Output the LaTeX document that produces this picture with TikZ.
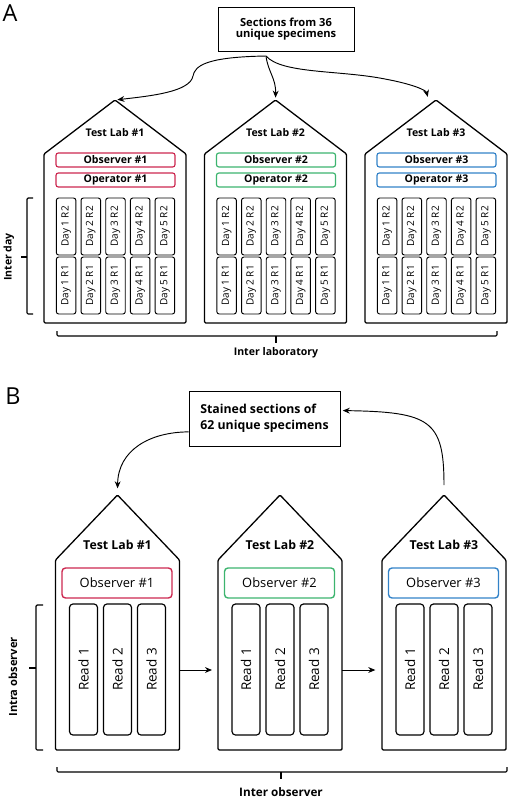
\documentclass[tikz,border=0pt]{standalone}
\usepackage{fontspec}
\setmainfont{Open Sans}
\usetikzlibrary{arrows.meta}
\definecolor{obsred}{RGB}{204,40,80}
\definecolor{obsgreen}{RGB}{60,180,110}
\definecolor{obsblue}{RGB}{50,130,200}
\newcommand{\fs}[1]{\fontsize{#1}{#1}\selectfont}

\begin{document}
\begin{tikzpicture}[
        x=0.03cm, y=-0.03cm,
        house/.style={draw, line width=1.1pt, rounded corners=1pt},
        specbox/.style={draw, line width=0.7pt, inner sep=0pt, font=\bfseries\fs{9.5}},
        obsA/.style={draw, line width=1pt, rounded corners=2pt, minimum width=3.57cm, minimum height=0.42cm, inner sep=0pt, font=\bfseries\fs{9}},
        obsB/.style={draw, line width=1.2pt, rounded corners=3pt, minimum width=3.3cm, minimum height=0.9cm, inner sep=0pt, font=\fs{11}},
        day/.style={draw, line width=0.8pt, rounded corners=2pt, rotate=90, minimum width=1.71cm, minimum height=0.585cm, inner sep=0pt, font=\fs{8.5}},
        readbox/.style={draw, line width=1pt, rounded corners=3pt, rotate=90, minimum width=3.93cm, minimum height=0.84cm, inner sep=0pt, font=\fs{11.5}},
        bracket/.style={draw, line width=1pt, rounded corners=1pt},
        arrow/.style={-{Stealth[length=6pt,width=5pt]}, line width=0.8pt}
    ]
    \useasboundingbox (0,0) rectangle (509,800);

    % panel A
    \node[font=\fs{20}] (panA) at (10,13) {A};
    \node[specbox, minimum width=4.08cm, minimum height=1.32cm, align=center] (specA) at (286,29)
        {Sections from 36\\unique specimens};
    \coordinate (split) at (266,56);

    \foreach \i/\cx/\col in {1/115/obsred, 2/275.5/obsgreen, 3/436/obsblue} {
        \draw[house] (\cx-71,323) -- (\cx-71,154) -- (\cx,100) coordinate (apexA\i)
            -- (\cx+71,154) -- (\cx+71,323) -- cycle;
        \node[font=\bfseries\fs{9}] (labA\i) at (\cx,133) {Test Lab \#\i};
        \node[obsA, draw=\col] (obsA\i) at (\cx+0.5,160) {Observer \#\i};
        \node[obsA, draw=\col] (opA\i) at (\cx+0.5,180) {Operator \#\i};
        \foreach \d in {1,...,5} {
            \node[day] (dayA\i\d b) at ({\cx+0.5+(\d-3)*24.7},226.5) {Day \d\ R2};
            \node[day] (dayA\i\d a) at ({\cx+0.5+(\d-3)*24.7},285.5) {Day \d\ R1};
        }
    }

    \draw[arrow, shorten >=2pt] (split) .. controls (205,57) and (195,66) .. (193,76)
        .. controls (190,92) and (150,96) .. (apexA1);
    \draw[arrow, shorten >=2pt] (split) .. controls (268,72) and (276,78) .. (apexA2);
    \draw[arrow, shorten >=1pt] (split) .. controls (282,74) and (340,70) .. (385,79)
        .. controls (412,84) and (426,90) .. (428,98);

    % inter day / inter laboratory
    \draw[bracket] (33,198) -- (27,198) -- (27,314) -- (33,314);
    \draw[bracket] (27,257) -- (21,257);
    \node[font=\bfseries\fs{9}, rotate=90] (interday) at (9,257) {Inter day};
    \draw[bracket] (57,331) -- (57,336) -- (497,336) -- (497,331);
    \draw[bracket] (276,336) -- (276,343);
    \node[font=\bfseries\fs{9}] (interlab) at (276,353) {Inter laboratory};

    % panel B
    \node[font=\fs{20}] (panB) at (13,396) {B};
    \node[specbox, minimum width=4.53cm, minimum height=1.65cm, align=left, font=\bfseries\fs{10.5}] (specB) at (264.5,418.5)
        {Stained sections of\\[3pt]62 unique specimens};

    \foreach \i/\cx/\col in {1/117.5/obsred, 2/280/obsgreen, 3/444/obsblue} {
        \draw[house] (\cx-62,750) -- (\cx-62,560) -- (\cx,495) coordinate (apexB\i)
            -- (\cx+62,560) -- (\cx+62,750) -- cycle;
        \coordinate (leftB\i) at (\cx-62,670);
        \coordinate (rightB\i) at (\cx+62,670);
        \node[font=\bfseries\fs{10.5}] (labB\i) at (\cx,545) {Test Lab \#\i};
        \node[obsB, draw=\col] (obsB\i) at (\cx-0.5,583) {Observer \#\i};
        \foreach \r in {1,2,3}
            \node[readbox] (readB\i\r) at ({\cx+(\r-2)*34},669.5) {Read \r};
    }

    \draw[arrow, shorten >=0.18cm] (rightB1) -- (leftB2);
    \draw[arrow, shorten >=0.2cm] (rightB2) -- (leftB3);
    \draw[arrow, shorten >=0.2cm] (specB.190) .. controls (150,432) and (118,450) .. (apexB1);
    \draw[arrow, shorten <=0.3cm, shorten >=2pt] (apexB3) .. controls (444,420) and (430,412) .. (specB.6);

    % intra observer / inter observer
    \draw[bracket] (43,605) -- (36,605) -- (36,750) -- (43,750);
    \draw[bracket] (36,668) -- (29,668);
    \node[font=\bfseries\fs{9.5}, rotate=90] (intraobs) at (13,677) {Intra observer};
    \draw[bracket] (57,767) -- (57,772) -- (507,772) -- (507,767);
    \draw[bracket] (281,772) -- (281,779);
    \node[font=\bfseries\fs{10}] (interobs) at (281,792) {Inter observer};
\end{tikzpicture}
\end{document}
